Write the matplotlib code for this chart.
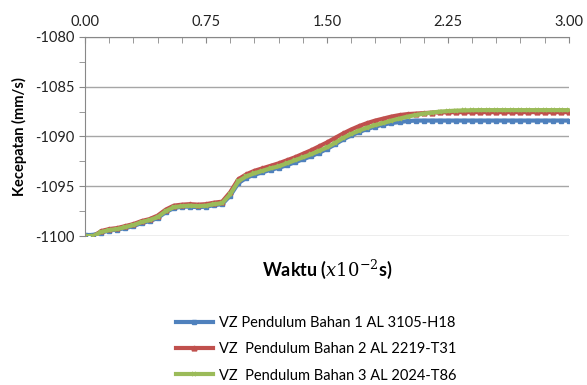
import numpy as np
import matplotlib.pyplot as plt
from matplotlib.ticker import MultipleLocator

# waktu (x10^-2 s), langkah 0.05
waktu = np.round(np.arange(0, 3.0001, 0.05), 2)

vz_bahan3 = [-1100.0, -1100.0, -1099.6, -1099.4, -1099.3, -1099.1, -1098.9, -1098.6,
             -1098.4, -1098.1, -1097.5, -1097.1, -1097.0, -1096.95, -1097.0, -1096.95,
             -1096.8, -1096.7, -1095.8, -1094.5, -1094.0, -1093.7, -1093.45, -1093.2,
             -1093.0, -1092.7, -1092.4, -1092.1, -1091.8, -1091.45, -1091.1, -1090.65,
             -1090.15, -1089.75, -1089.4, -1089.1, -1088.85, -1088.65, -1088.4, -1088.2,
             -1088.0, -1087.85, -1087.7, -1087.6, -1087.5, -1087.45, -1087.4, -1087.38,
             -1087.36, -1087.35, -1087.35, -1087.35, -1087.35, -1087.35, -1087.35, -1087.35,
             -1087.35, -1087.35, -1087.35, -1087.35, -1087.35]

vz_bahan2 = [-1100.05, -1100.05, -1099.5, -1099.3, -1099.2, -1099.0, -1098.8, -1098.5,
             -1098.3, -1097.95, -1097.35, -1096.95, -1096.85, -1096.8, -1096.85, -1096.8,
             -1096.65, -1096.55, -1095.6, -1094.3, -1093.8, -1093.45, -1093.2, -1092.95,
             -1092.7, -1092.4, -1092.1, -1091.75, -1091.4, -1091.0, -1090.6, -1090.15,
             -1089.7, -1089.3, -1088.95, -1088.65, -1088.4, -1088.2, -1088.0, -1087.85,
             -1087.75, -1087.7, -1087.65, -1087.6, -1087.58, -1087.56, -1087.55, -1087.55,
             -1087.55, -1087.55, -1087.55, -1087.55, -1087.55, -1087.55, -1087.55, -1087.55,
             -1087.55, -1087.55, -1087.55, -1087.55, -1087.55]

vz_bahan1 = [-1099.9, -1099.9, -1099.65, -1099.45, -1099.35, -1099.2, -1099.0, -1098.7,
             -1098.5, -1098.2, -1097.6, -1097.2, -1097.05, -1097.05, -1097.1, -1097.05,
             -1096.9, -1096.8, -1095.95, -1094.7, -1094.15, -1093.85, -1093.6, -1093.35,
             -1093.15, -1092.9, -1092.6, -1092.3, -1092.0, -1091.65, -1091.25, -1090.8,
             -1090.3, -1089.9, -1089.55, -1089.25, -1089.0, -1088.8, -1088.65, -1088.55,
             -1088.45, -1088.4, -1088.4, -1088.4, -1088.4, -1088.4, -1088.4, -1088.4,
             -1088.4, -1088.4, -1088.4, -1088.4, -1088.4, -1088.4, -1088.4, -1088.4,
             -1088.4, -1088.4, -1088.4, -1088.4, -1088.4]

labels = ["VZ Pendulum Bahan 1 AL 3105-H18",
          "VZ  Pendulum Bahan 2 AL 2219-T31",
          "VZ  Pendulum Bahan 3 AL 2024-T86"]

plt.rcParams['font.family'] = ['Lato', 'DejaVu Sans']
plt.rcParams['mathtext.fontset'] = 'dejavuserif'

fig = plt.figure(figsize=(5.87, 3.85), dpi=100)
ax = fig.add_axes([0.145, 0.387, 0.824, 0.517])

ax.plot(waktu, vz_bahan1, color='#4F81BD', lw=3, marker='s', ms=3.5, label=labels[0])
ax.plot(waktu, vz_bahan2, color='#C0504D', lw=3, marker='^', ms=3.5, label=labels[1])
ax.plot(waktu, vz_bahan3, color='#9BBB59', lw=3, marker='x', ms=3.5, mew=1.2, label=labels[2])

ax.set_xlim(0, 3.0)
ax.set_ylim(-1100, -1080)
ax.xaxis.tick_top()
ax.xaxis.set_major_locator(MultipleLocator(0.75))
ax.xaxis.set_minor_locator(MultipleLocator(0.15))
ax.yaxis.set_major_locator(MultipleLocator(5))
ax.yaxis.set_minor_locator(MultipleLocator(2.5))
ax.xaxis.set_major_formatter(plt.FormatStrFormatter('%.2f'))
ax.yaxis.set_major_formatter(plt.FormatStrFormatter('%d'))

ax.tick_params(axis='x', which='both', direction='in', length=4, color='#888888',
               labelsize=10.5, pad=6, labelcolor='#222222')
ax.tick_params(axis='y', which='both', direction='out', length=4, color='#888888',
               labelsize=10.5, labelcolor='#222222')

ax.grid(axis='y', which='major', color='#A6A6A6', lw=1)
ax.set_axisbelow(True)
for s in ['right', 'bottom']:
    ax.spines[s].set_visible(False)
for s in ['left', 'top']:
    ax.spines[s].set_color('#888888')

ax.set_ylabel("Kecepatan (mm/s)", fontsize=10.5, fontweight='bold', labelpad=6)
ax.set_xlabel("Waktu ($x10^{-2}$s)", fontsize=13, fontweight='bold')
ax.xaxis.set_label_position('bottom')
ax.xaxis.labelpad = 16

leg = ax.legend(loc='upper left', bbox_to_anchor=(0.161, -0.335), frameon=False,
                fontsize=10.5, handlelength=2.5, labelspacing=0.85, handletextpad=0.45)

fig.savefig('out.png', dpi=100)
